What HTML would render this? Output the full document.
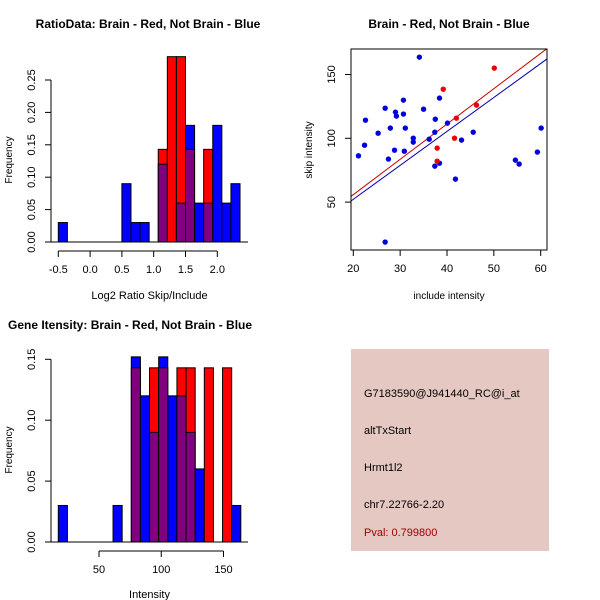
<!DOCTYPE html>
<html><head><meta charset="utf-8"><style>
body{margin:0;background:#fff}
svg{display:block;font-family:"Liberation Sans",sans-serif}
</style></head><body>
<svg id="c" width="600" height="600" viewBox="0 0 600 600">
<rect width="600" height="600" fill="#fff"/>
<g>
<rect x="351" y="349" width="198" height="202" fill="#e5c8c2"/>
<text x="364" y="397" font-size="11">G7183590@J941440_RC@i_at</text>
<text x="364" y="434" font-size="11">altTxStart</text>
<text x="364" y="471" font-size="11">Hrmt1l2</text>
<text x="364" y="508" font-size="11">chr7.22766-2.20</text>
<text x="364" y="536" font-size="11" fill="#a00000">Pval: 0.799800</text>
</g>
</svg>
<script>
// Ratio histogram
const ratioBinStart = -0.5;
const ratioBinWidth = 1/7;
const ratioBlue = [0.03,0,0,0,0,0,0,0.09,0.03,0.03,0,0.12,0,0.06,0.18,0.06,0.06,0.18,0.06,0.09];
const ratioRed  = [0,0,0,0,0,0,0,0,0,0,0,0.143,0.286,0.286,0.143,0,0.143,0,0,0];
const ratioXTicks = [-0.5,0,0.5,1,1.5,2];
const ratioXLabels = ["-0.5","0.0","0.5","1.0","1.5","2.0"];
const ratioYTicks = [0,0.05,0.1,0.15,0.2,0.25];
const ratioYLabels = ["0.00","0.05","0.10","0.15","0.20","0.25"];
// Intensity histogram
const intBinStart = 17.3;
const intBinWidth = 7.33;
const intBlue = [0.03,0,0,0,0,0,0.03,0,0.152,0.12,0.09,0.152,0.12,0.12,0.09,0.06,0,0,0,0.03];
const intRed  = [0,0,0,0,0,0,0,0,0.143,0,0.143,0.143,0,0.143,0.143,0,0.143,0,0.143,0];
const intXTicks = [50,100,150];
const intXLabels = ["50","100","150"];
const intYTicks = [0,0.05,0.1,0.15];
const intYLabels = ["0.00","0.05","0.10","0.15"];
// Scatter
const blueX = [21.1,22.4,22.6,25.3,26.8,27.5,27.9,28.8,29.0,29.2,30.7,30.7,30.9,31.1,32.8,32.8,34.1,35.0,36.2,37.4,37.5,37.4,38.4,38.4,40.1,41.8,43.1,45.6,54.6,55.4,59.3,60.1,26.8];
const blueY = [86.3,94.6,114.2,104.0,123.6,83.7,108.0,90.7,120.5,117.4,129.9,119.0,89.9,108.0,100.1,97.0,163.6,122.8,99.3,104.8,115.0,78.2,131.5,80.5,111.9,68.0,98.6,104.8,82.9,79.8,89.2,108.0,18.7];
const redX = [50.1,39.2,46.3,42.0,41.6,37.9,37.9];
const redY = [155.0,138.5,126.0,115.8,100.1,92.3,82.1];
const redFit = [0.4,2.77];
const blueFit = [-1,2.66];
const scXTicks = [20,30,40,50,60];
const scYTicks = [50,100,150];

const svg=document.getElementById('c');
const NS='http://www.w3.org/2000/svg';
function mk(tag,attrs,parent){const e=document.createElementNS(NS,tag);for(const k in attrs)e.setAttribute(k,attrs[k]);(parent||svg).appendChild(e);return e;}
function txt(x,y,s,opts,parent){const e=mk('text',Object.assign({x:x,y:y,'font-size':11,'text-anchor':'middle'},opts||{}),parent);e.textContent=s;return e;}

function hist(cfg){
  const g=mk('g',{});
  
  
  const sx=v=>cfg.x0+(v-cfg.xv0)*cfg.xs;
  const sy=v=>cfg.y0-v*cfg.ys;
  for(let k=0;k<cfg.blue.length;k++){
    const a=cfg.start+k*cfg.w,b=a+cfg.w;
    const x1=sx(a),x2=sx(b);
    const bl=cfg.blue[k],rd=cfg.red[k];
    const top=Math.max(bl,rd),mn=Math.min(bl,rd);
    if(top<=0)continue;
    const hi=mk('rect',{x:x1,y:sy(top),width:x2-x1,height:sy(0)-sy(top),fill:bl>=rd?'#0000ff':'#ff0000',stroke:'#000','stroke-width':1},g);
    
    
    if(mn>0){
      const p=mk('rect',{x:x1,y:sy(mn),width:x2-x1,height:sy(0)-sy(mn),fill:'#800080',stroke:'#000','stroke-width':1},g);
      
      
    }
  }
  mk('line',{x1:cfg.baseL,x2:cfg.baseR,y1:sy(0),y2:sy(0),stroke:'#000'},g);
  // x axis
  const xa=mk('g',{},g);
  
  
  const ay=cfg.y0+9;
  mk('line',{x1:sx(cfg.xt[0]),x2:sx(cfg.xt[cfg.xt.length-1]),y1:ay,y2:ay,stroke:'#000'},xa);
  cfg.xt.forEach((v,i)=>{mk('line',{x1:sx(v),x2:sx(v),y1:ay,y2:ay+6,stroke:'#000'},xa);txt(sx(v),ay+22,cfg.xl[i],{},xa);});
  const xl=txt((cfg.baseL+cfg.baseR)/2,cfg.xlabY,cfg.xlab,{},g);
  
  
  // y axis
  const ya=mk('g',{},g);
  
  
  const ax=51;
  mk('line',{x1:ax,x2:ax,y1:sy(cfg.yt[0]),y2:sy(cfg.yt[cfg.yt.length-1]),stroke:'#000'},ya);
  cfg.yt.forEach((v,i)=>{mk('line',{x1:ax-6,x2:ax,y1:sy(v),y2:sy(v),stroke:'#000'},ya);txt(0,0,cfg.yl[i],{transform:`translate(35,${sy(v)}) rotate(-90)`},ya);});
  const yl=txt(0,0,'Frequency',{transform:`translate(12,${cfg.ylabC}) rotate(-90)`,'font-size':10},g);
  
  
  const t=txt(cfg.titleX,cfg.titleY,cfg.title,{'font-weight':'bold','font-size':12,'text-anchor':cfg.titleAnchor||'middle'},g);
  
  
}

hist({name:'ratio-histogram',blue:ratioBlue,red:ratioRed,start:ratioBinStart,w:ratioBinWidth,
  x0:58.3,xv0:-0.5,xs:63.6,y0:242,ys:648,baseL:51,baseR:248,
  xt:ratioXTicks,xl:ratioXLabels,yt:ratioYTicks,yl:ratioYLabels,
  xlab:'Log2 Ratio Skip/Include',xlabY:299,ylabC:160,
  title:'RatioData: Brain - Red, Not Brain - Blue',titleX:148,titleY:28});
hist({name:'intensity-histogram',blue:intBlue,red:intRed,start:intBinStart,w:intBinWidth,
  x0:99,xv0:50,xs:1.245,y0:542,ys:1218,baseL:51,baseR:248,
  xt:intXTicks,xl:intXLabels,yt:intYTicks,yl:intYLabels,
  xlab:'Intensity',xlabY:598,ylabC:450,
  title:'Gene Itensity: Brain - Red, Not Brain - Blue',titleX:8,titleY:329,titleAnchor:'start'});

// scatter
(function(){
  const g=mk('g',{});
  
  
  const L=351,R=547,T=49,B=250;
  const sx=v=>353.3+(v-20)*4.685;
  const sy=v=>138.3-(v-100)*1.276;
  const ix=x=>20+(x-353.3)/4.685;
  const cp=mk('clipPath',{id:'scclip'},g);
  mk('rect',{x:L,y:T,width:R-L,height:B-T},cp);
  const xa=ix(L),xb=ix(R);
  const rl=mk('line',{x1:L,x2:R,y1:sy(redFit[0]+redFit[1]*xa),y2:sy(redFit[0]+redFit[1]*xb),stroke:'#cc0000','clip-path':'url(#scclip)'},g);
  
  
  const bl=mk('line',{x1:L,x2:R,y1:sy(blueFit[0]+blueFit[1]*xa),y2:sy(blueFit[0]+blueFit[1]*xb),stroke:'#0000aa','clip-path':'url(#scclip)'},g);
  
  
  blueX.forEach((x,i)=>{const c=mk('circle',{cx:sx(x),cy:sy(blueY[i]),r:2.7,fill:'#0000dd'},g);
    
    });
  redX.forEach((x,i)=>{const c=mk('circle',{cx:sx(x),cy:sy(redY[i]),r:2.7,fill:'#ee0000'},g);
    
    });
  mk('rect',{x:L,y:T,width:R-L,height:B-T,fill:'none',stroke:'#000'},g);
  scXTicks.forEach(v=>{mk('line',{x1:sx(v),x2:sx(v),y1:B,y2:B+6,stroke:'#000'},g);txt(sx(v),B+22,String(v),{},g);});
  scYTicks.forEach(v=>{mk('line',{x1:L-6,x2:L,y1:sy(v),y2:sy(v),stroke:'#000'},g);txt(0,0,String(v),{transform:`translate(335,${sy(v)}) rotate(-90)`},g);});
  const xl=txt(449,299,'include intensity',{'font-size':10},g);
  
  
  const yl=txt(0,0,'skip intensity',{transform:'translate(312,150) rotate(-90)','font-size':10},g);
  
  
  const t=txt(449,28,'Brain - Red, Not Brain - Blue',{'font-weight':'bold','font-size':12},g);
  
  
})();
</script>
</body></html>
